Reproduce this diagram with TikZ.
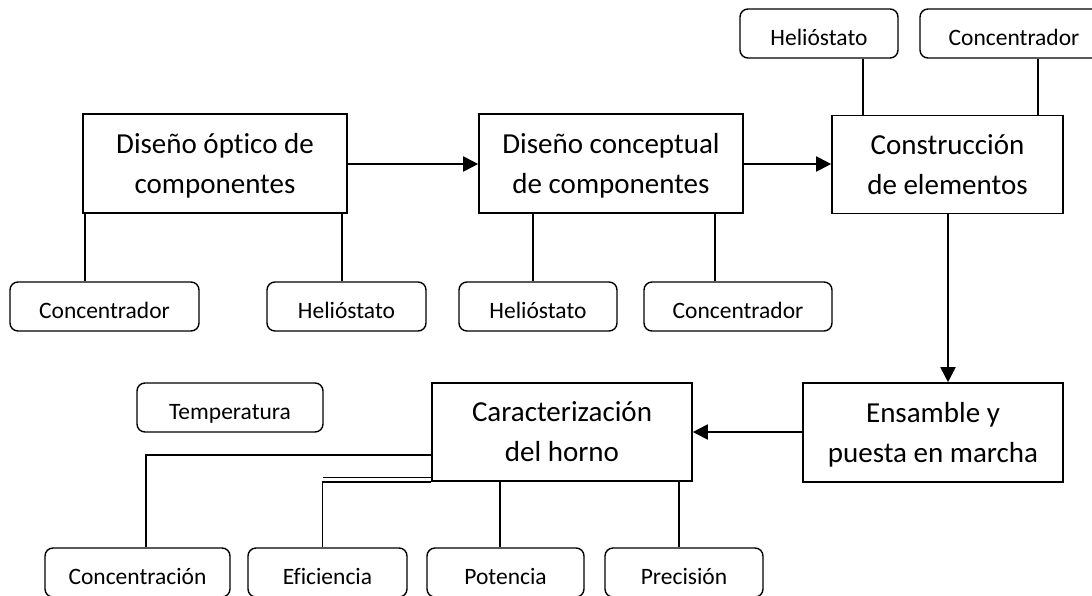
\documentclass[tikz,border=0pt]{standalone}
\usepackage{fontspec}
\setmainfont{Carlito}[Ligatures=NoCommon]
\usetikzlibrary{arrows.meta}
\tikzset{
  mainbox/.style={draw, line width=1.6pt, rectangle, align=center, inner sep=0pt,
    text height=66pt, text depth=7pt,
    font=\fontsize{29}{40}\selectfont},
  smallbox/.style={draw, line width=1.4pt, rectangle, rounded corners=8pt, inner sep=0pt,
    text height=23pt, text depth=0pt,
    minimum height=49pt, font=\fontsize{23.5}{28}\selectfont},
  link/.style={line width=1.4pt},
  flow/.style={line width=1.9pt, -{Triangle[length=15pt,width=15pt]}}
}
\begin{document}
\begin{tikzpicture}[x=1pt,y=-1pt]
\useasboundingbox (0,0) rectangle (1092,595);
\clip (0,0) rectangle (1092,595);
% main boxes
\node[mainbox, minimum width=264pt, minimum height=99pt] (b1) at (215,163.5) {Diseño óptico de\\componentes};
\node[mainbox, minimum width=264pt, minimum height=99pt] (b2) at (611,163.5) {Diseño conceptual\\de componentes};
\node[mainbox, minimum width=231pt, minimum height=98pt] (b3) at (947.5,164.5) {Construcción\\de elementos};
\node[mainbox, minimum width=260pt, minimum height=99pt] (b4) at (933,432.5) {Ensamble y\\puesta en marcha};
\node[mainbox, minimum width=260pt, minimum height=98pt] (b5) at (562,432) {Caracterización\\del horno};
% top small boxes
\node[smallbox, minimum width=158pt] (th) at (819,33.5) {Helióstato};
\node[smallbox, minimum width=188pt] (tc) at (1014,33.5) {Concentrador};
% row 1 small boxes
\node[smallbox, minimum width=189pt] (c1) at (104.5,306.5) {Concentrador};
\node[smallbox, minimum width=159pt] (h1) at (346.5,306.5) {Helióstato};
\node[smallbox, minimum width=158pt] (h2) at (538,306.5) {Helióstato};
\node[smallbox, minimum width=188pt] (c2) at (738,306.5) {Concentrador};
% temperatura
\node[smallbox, minimum width=186pt] (temp) at (230,407.5) {Temperatura};
% row 2 small boxes
\node[smallbox, minimum width=185pt] (conc) at (137.5,572.5) {Concentración};
\node[smallbox, minimum width=159pt] (efi) at (327.5,572.5) {Eficiencia};
\node[smallbox, minimum width=157pt] (pot) at (505.5,572.5) {Potencia};
\node[smallbox, minimum width=158pt] (pre) at (684,572.5) {Precisión};
% flow arrows
\draw[flow] (b1.east |- 0,164) -- (b2.west |- 0,164);
\draw[flow] (b2.east |- 0,164) -- (b3.west |- 0,164);
\draw[flow] (b3.south -| 948,0) -- (b4.north -| 948,0);
\draw[flow] (b4.west |- 0,432) -- (b5.east |- 0,432);
% links
\draw[link] (b1.south -| 85,0) -- (c1.north -| 85,0);
\draw[link] (b1.south -| 342,0) -- (h1.north -| 342,0);
\draw[link] (b2.south -| 533,0) -- (h2.north -| 533,0);
\draw[link] (b2.south -| 715,0) -- (c2.north -| 715,0);
\draw[link] (th.south -| 863,0) -- (b3.north -| 863,0);
\draw[link] (tc.south -| 1038,0) -- (b3.north -| 1038,0);
\coordinate (k1) at (146,455);
\draw[link] (b5.west |- k1) -- (k1) -- (conc.north -| k1);
\coordinate (k2) at (322.5,482);
\coordinate (k3) at (322.5,477.5);
\draw[link] (b5.west |- k3) -- (k3);
\draw[link] (b5.west |- k2) -- (k2) -- (efi.north -| k2);
\draw[link] (b5.south -| 500,0) -- (pot.north -| 500,0);
\draw[link] (b5.south -| 679,0) -- (pre.north -| 679,0);
\end{tikzpicture}
\end{document}
